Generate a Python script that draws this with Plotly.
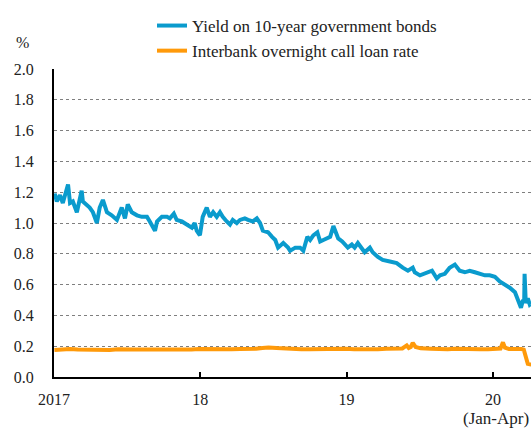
import plotly.graph_objects as go

bond_dates = ["2017-01-02","2017-01-03","2017-01-08","2017-01-16","2017-01-23","2017-02-05","2017-02-10","2017-02-17","2017-02-27","2017-03-11","2017-03-14","2017-03-24","2017-03-31","2017-04-08","2017-04-18","2017-04-25","2017-05-03","2017-05-13","2017-05-25","2017-06-07","2017-06-19","2017-06-27","2017-07-04","2017-07-14","2017-07-27","2017-08-08","2017-08-21","2017-08-28","2017-09-10","2017-09-15","2017-09-27","2017-10-10","2017-10-17","2017-10-27","2017-11-03","2017-11-16","2017-11-28","2017-12-11","2017-12-18","2017-12-23","2017-12-31","2018-01-07","2018-01-17","2018-01-25","2018-02-02","2018-02-11","2018-02-19","2018-02-26","2018-03-08","2018-03-16","2018-03-23","2018-04-02","2018-04-10","2018-04-22","2018-04-30","2018-05-12","2018-05-22","2018-05-30","2018-06-06","2018-06-19","2018-06-29","2018-07-07","2018-07-14","2018-07-27","2018-08-08","2018-08-13","2018-08-26","2018-09-07","2018-09-15","2018-09-25","2018-10-02","2018-10-10","2018-10-20","2018-10-27","2018-11-04","2018-11-14","2018-11-21","2018-11-29","2018-12-04","2018-12-11","2018-12-21","2018-12-29","2019-01-04","2019-01-14","2019-01-21","2019-01-29","2019-02-08","2019-02-15","2019-02-28","2019-03-07","2019-03-20","2019-04-01","2019-04-19","2019-05-06","2019-05-21","2019-06-03","2019-06-15","2019-06-20","2019-07-03","2019-07-15","2019-07-28","2019-08-02","2019-08-14","2019-08-22","2019-09-03","2019-09-15","2019-09-28","2019-10-10","2019-10-23","2019-11-04","2019-11-17","2019-11-29","2019-12-12","2019-12-24","2020-01-06","2020-01-18","2020-01-31","2020-02-12","2020-02-25","2020-03-03","2020-03-11","2020-03-16","2020-03-19","2020-03-20","2020-03-23","2020-03-28","2020-04-02","2020-04-07"]
bond_yield = [1.15,1.19,1.14,1.18,1.13,1.25,1.13,1.14,1.07,1.21,1.14,1.12,1.10,1.07,1.00,1.10,1.15,1.07,1.05,1.02,1.10,1.03,1.12,1.07,1.05,1.04,1.04,1.01,0.95,1.01,1.04,1.04,1.03,1.06,1.02,1.01,0.99,0.97,1.00,0.95,0.92,1.04,1.10,1.04,1.07,1.04,1.07,1.04,1.01,0.99,1.02,1.00,1.02,1.03,1.02,1.01,1.03,1.00,0.95,0.94,0.91,0.89,0.84,0.87,0.84,0.82,0.84,0.84,0.82,0.91,0.89,0.92,0.94,0.88,0.89,0.90,0.91,0.98,0.94,0.90,0.88,0.86,0.84,0.86,0.84,0.87,0.84,0.81,0.84,0.81,0.78,0.76,0.75,0.74,0.71,0.69,0.71,0.68,0.66,0.67,0.68,0.69,0.64,0.66,0.67,0.71,0.73,0.69,0.68,0.69,0.68,0.67,0.66,0.66,0.65,0.62,0.60,0.58,0.55,0.51,0.45,0.50,0.49,0.67,0.48,0.51,0.47,0.48]

call_dates = ["2017-01-02","2017-01-20","2017-02-10","2017-03-01","2017-03-20","2017-04-10","2017-05-01","2017-05-20","2017-06-10","2017-06-30","2017-07-20","2017-08-10","2017-09-01","2017-09-20","2017-10-10","2017-10-30","2017-11-20","2017-12-10","2017-12-29","2018-01-20","2018-02-10","2018-03-01","2018-03-20","2018-04-10","2018-04-30","2018-05-20","2018-06-05","2018-06-20","2018-07-10","2018-07-30","2018-08-20","2018-09-10","2018-10-01","2018-10-25","2018-11-20","2018-12-10","2018-12-29","2019-01-20","2019-02-10","2019-03-01","2019-03-20","2019-04-10","2019-05-01","2019-05-20","2019-05-31","2019-06-05","2019-06-10","2019-06-15","2019-06-22","2019-07-05","2019-07-30","2019-08-20","2019-09-10","2019-09-30","2019-10-20","2019-11-10","2019-11-30","2019-12-20","2020-01-10","2020-01-20","2020-01-26","2020-01-31","2020-02-10","2020-02-25","2020-03-05","2020-03-12","2020-03-18","2020-03-21","2020-03-24","2020-03-28","2020-04-02","2020-04-08"]
call_rate = [0.175,0.178,0.182,0.178,0.176,0.174,0.172,0.176,0.180,0.182,0.179,0.178,0.177,0.179,0.181,0.180,0.178,0.179,0.182,0.180,0.183,0.180,0.181,0.182,0.181,0.184,0.189,0.192,0.188,0.184,0.182,0.180,0.181,0.183,0.180,0.181,0.183,0.180,0.179,0.182,0.181,0.183,0.182,0.185,0.205,0.188,0.195,0.222,0.195,0.186,0.183,0.181,0.180,0.184,0.181,0.179,0.181,0.180,0.181,0.185,0.225,0.190,0.182,0.184,0.179,0.182,0.178,0.150,0.100,0.085,0.082,0.080]

x_tickvals = ["2017-01-01", "2018-01-01", "2019-01-01", "2020-01-01"]
x_ticktext = ["2017", "18", "19", "20"]
y_tickvals = [0.0, 0.2, 0.4, 0.6, 0.8, 1.0, 1.2, 1.4, 1.6, 1.8, 2.0]

FONT = "Liberation Serif"

fig = go.Figure()
fig.add_trace(go.Scatter(x=bond_dates, y=bond_yield, mode="lines",
                         name="Yield on 10-year government bonds",
                         line=dict(color="#0A9BCD", width=4), legendgroup="a"))
fig.add_trace(go.Scatter(x=call_dates, y=call_rate, mode="lines",
                         name="Interbank overnight call loan rate",
                         line=dict(color="#FF9A0A", width=4), legendgroup="b"))

fig.update_layout(
    width=531, height=429,
    margin=dict(l=54, r=0, t=69, b=52, autoexpand=False),
    paper_bgcolor="white", plot_bgcolor="white",
    font=dict(family=FONT, size=16, color="#222222"),
    showlegend=True,
    legend=dict(x=(152 - 54) / 477, y=(377 - 8) / 308, xanchor="left", yanchor="top",
                font=dict(family=FONT, size=17, color="#222222"),
                bgcolor="rgba(0,0,0,0)", tracegroupgap=8, traceorder="normal"),
    xaxis=dict(range=["2017-01-01", "2020-04-05"], tickvals=x_tickvals, ticktext=x_ticktext,
               showgrid=False, showline=True, linecolor="black", linewidth=2,
               ticks="inside", ticklen=5, tickwidth=2, tickcolor="black",
               tickfont=dict(family=FONT, size=16), zeroline=False, ticklabelstandoff=7,
               automargin=False),
    yaxis=dict(range=[0, 2.0], tickvals=y_tickvals, tickformat=".1f",
               showgrid=True, gridcolor="#7f7f7f", griddash="3px,3px", gridwidth=1,
               showline=True, linecolor="black", linewidth=2, ticks="",
               tickfont=dict(family=FONT, size=16), zeroline=False, ticklabelstandoff=15,
               automargin=False),
    annotations=[
        dict(text="%", xref="paper", yref="paper", x=(22 - 54) / 477, y=(377 - 43) / 308,
             xanchor="center", yanchor="middle",
             showarrow=False, font=dict(family=FONT, size=16)),
        dict(text="(Jan-Apr)", xref="paper", yref="paper", x=(496 - 54) / 477, y=(377 - 418) / 308,
             xanchor="center", yanchor="middle",
             showarrow=False, font=dict(family=FONT, size=17)),
    ],
)

fig.write_html("out.html", config={"displayModeBar": False},
               post_script="document.body.style.margin='0';")
